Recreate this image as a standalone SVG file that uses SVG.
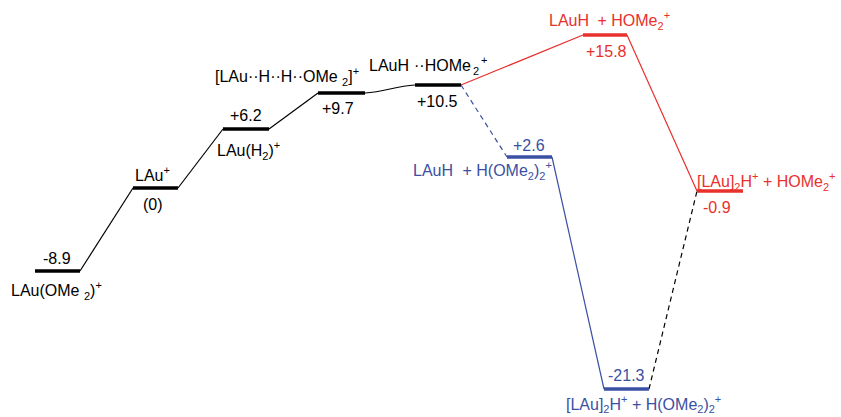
<svg xmlns="http://www.w3.org/2000/svg" width="841" height="417" viewBox="0 0 841 417">
<style>
text{font-family:"Liberation Sans",Arial,sans-serif;font-size:16px}
.k{fill:#000}.r{fill:#e8302c}.b{fill:#3b4fa3}
.lv{stroke-width:3.5;fill:none}
.ln{stroke-width:1.2;fill:none}
.sk{stroke:#000}.sr{stroke:#e8302c}.sb{stroke:#3b4fa3}
.d{stroke-dasharray:5,4}
.s{font-size:11px}
</style>
<rect width="841" height="417" fill="#fff"/>
<g id="connectors">
<path class="ln sk" d="M80,271 L133,188"/>
<path class="ln sk" d="M178,188 L223,129"/>
<path class="ln sk" d="M269,129 L318,93"/>
<path class="ln sk" d="M365,93 C385,92 395,86 415,85"/>
<path class="ln sr" d="M461,85 L583,35"/>
<path class="ln sr" d="M627,35 L697,191"/>
<path class="ln sb d" d="M461,85 L507,157"/>
<path class="ln sb" d="M552,157 L604,389"/>
<path class="ln sk d" d="M649,389 L697,191"/>
</g>
<g id="n1">
<path class="lv sk" d="M35,271 H80"/>
<text class="k" x="43" y="264">-8.9</text>
<text class="k" x="11" y="296">LAu(OMe <tspan class="s" dy="4">2</tspan><tspan dy="-4">)</tspan><tspan class="s" dy="-7">+</tspan></text>
</g>
<g id="n2">
<path class="lv sk" d="M133,188 H178"/>
<text class="k" x="135" y="181">LAu<tspan class="s" dy="-7">+</tspan></text>
<text class="k" x="143" y="210">(0)</text>
</g>
<g id="n3">
<path class="lv sk" d="M223,129 H269"/>
<text class="k" x="230" y="121">+6.2</text>
<text class="k" x="217" y="156">LAu(H<tspan class="s" dy="4">2</tspan><tspan dy="-4">)</tspan><tspan class="s" dy="-7">+</tspan></text>
</g>
<g id="n4">
<path class="lv sk" d="M318,93 H365"/>
<text class="k" x="215" y="82">[LAu··H··H··OMe <tspan class="s" dy="4">2</tspan><tspan dy="-4">]</tspan><tspan class="s" dy="-7">+</tspan></text>
<text class="k" x="322" y="114">+9.7</text>
</g>
<g id="n5">
<path class="lv sk" d="M415,85 H461"/>
<text class="k" x="369" y="71">LAuH<tspan dx="5">··HOMe</tspan><tspan class="s" dx="2" dy="4">2</tspan><tspan class="s" dx="2" dy="-11">+</tspan></text>
<text class="k" x="417" y="107">+10.5</text>
</g>
<g id="n6">
<path class="lv sr" d="M583,35 H627"/>
<text class="r" x="549" y="26">LAuH<tspan dx="4"> + HOMe</tspan><tspan class="s" dy="4">2</tspan><tspan class="s" dy="-11">+</tspan></text>
<text class="r" x="586" y="57">+15.8</text>
</g>
<g id="n7">
<path class="lv sr" d="M697,191 H743"/>
<text class="r" x="697" y="187">[LAu]<tspan class="s" dy="4">2</tspan><tspan dy="-4">H</tspan><tspan class="s" dy="-7">+</tspan><tspan dy="7"> + HOMe</tspan><tspan class="s" dy="4">2</tspan><tspan class="s" dy="-11">+</tspan></text>
<text class="r" x="703" y="213">-0.9</text>
</g>
<g id="n8">
<path class="lv sb" d="M507,157 H552"/>
<text class="b" x="513" y="151">+2.6</text>
<text class="b" x="413" y="176">LAuH<tspan dx="5"> + H(OMe</tspan><tspan class="s" dy="4">2</tspan><tspan dy="-4">)</tspan><tspan class="s" dy="4">2</tspan><tspan class="s" dy="-11">+</tspan></text>
</g>
<g id="n9">
<path class="lv sb" d="M604,389 H649"/>
<text class="b" x="608" y="381">-21.3</text>
<text class="b" x="566" y="410">[LAu]<tspan class="s" dy="3">2</tspan><tspan dy="-3">H</tspan><tspan class="s" dy="-7">+</tspan><tspan dy="7"> + H(OMe</tspan><tspan class="s" dy="3">2</tspan><tspan dy="-3">)</tspan><tspan class="s" dy="3">2</tspan><tspan class="s" dy="-10">+</tspan></text>
</g>
</svg>
